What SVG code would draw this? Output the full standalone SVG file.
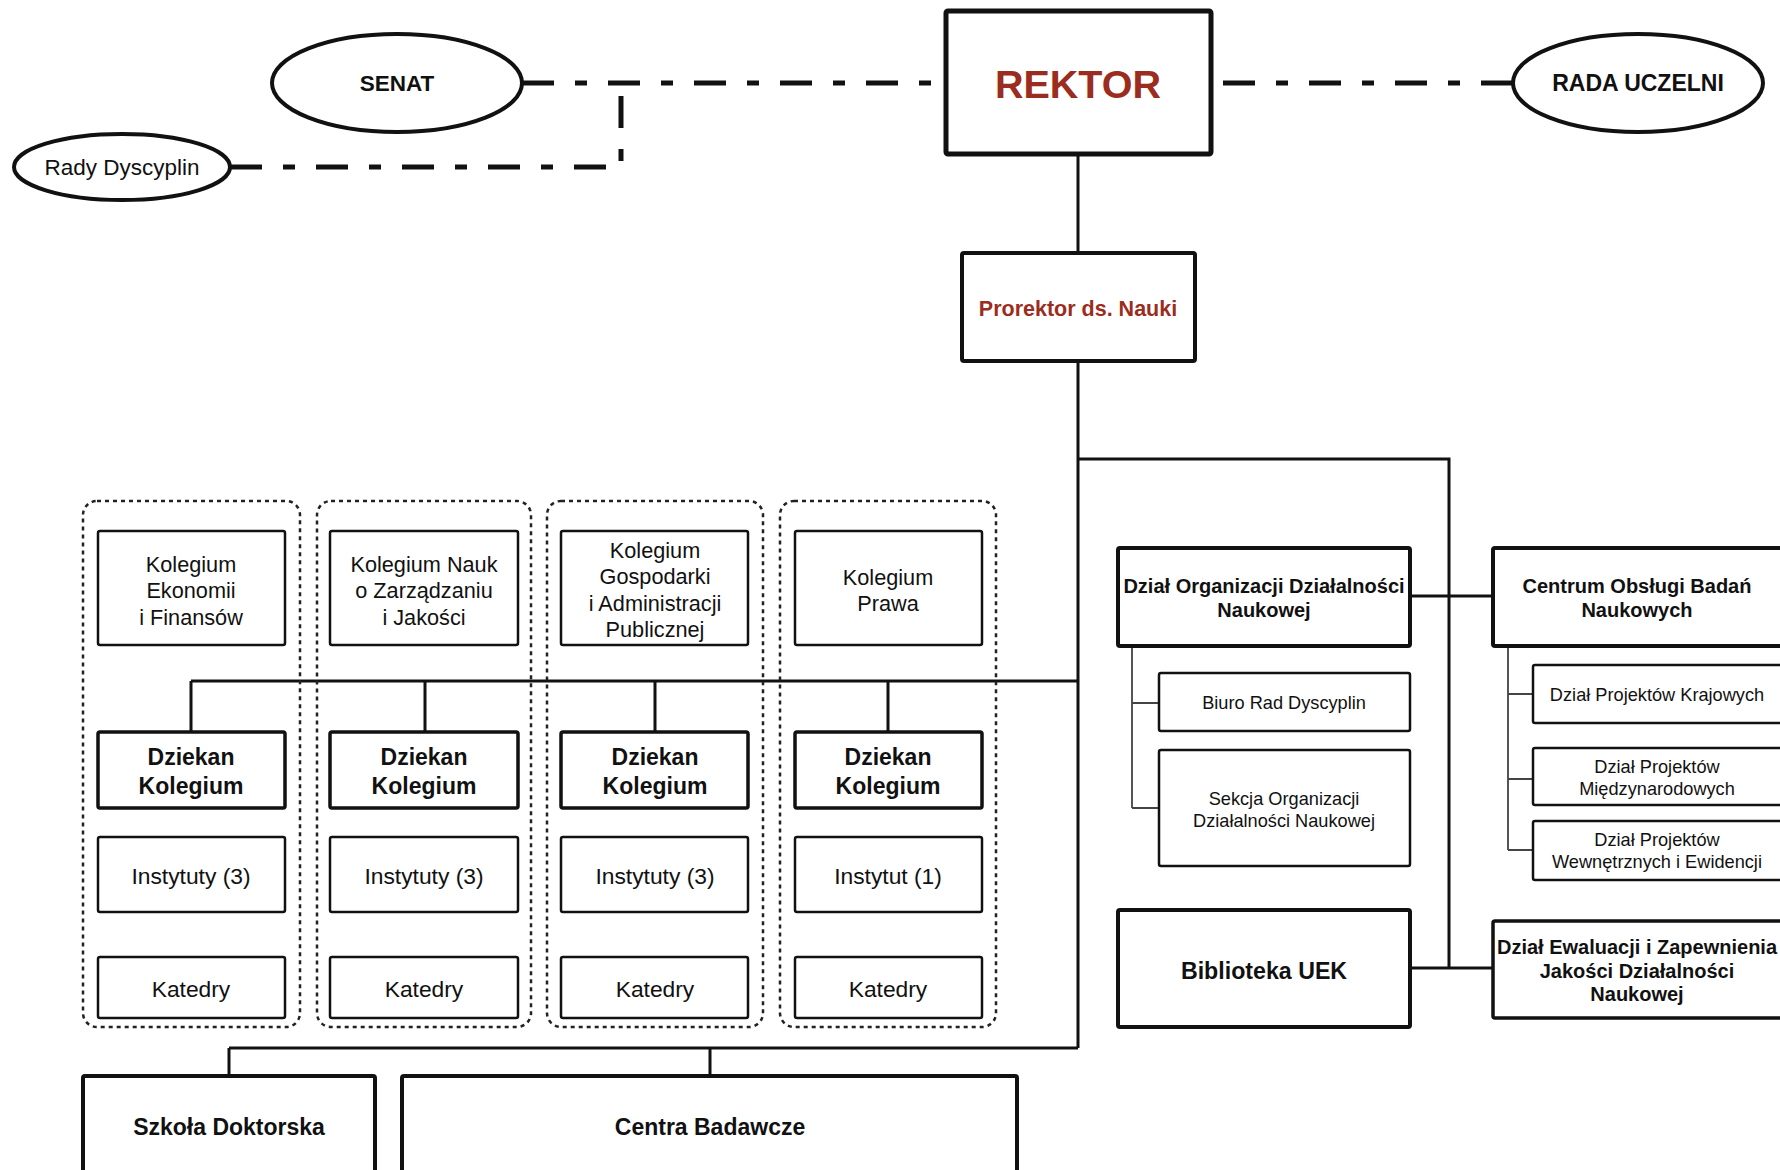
<svg xmlns="http://www.w3.org/2000/svg" width="1780" height="1170" viewBox="0 0 1780 1170">
<style>
text{font-family:"Liberation Sans",Arial,sans-serif;fill:#111;text-anchor:middle}
.b{font-weight:bold}
.red{fill:#9b2c20}
.box{fill:#fff;stroke:#111}
.w5{stroke-width:5}
.w4{stroke-width:4}
.w3{stroke-width:3.5}
.w2{stroke-width:2.5}
.grp{fill:none;stroke:#222;stroke-width:2.5;stroke-dasharray:4 4}
.dd{fill:none;stroke:#111;stroke-width:5;stroke-dasharray:32 21 12 21}
.ln{fill:none;stroke:#111;stroke-width:3}
.thin{fill:none;stroke:#444;stroke-width:1.8}
</style>
<rect width="1780" height="1170" fill="#fff"/>
<g id="connectors">
<path class="dd" d="M522 83 H946"/>
<path class="dd" d="M230 167 H621 V83"/>
<path class="dd" d="M1513 83 H1211"/>
<path class="ln" d="M1078 154 V253"/>
<path class="ln" d="M1078 361 V1048"/>
<path class="ln" d="M1078 459 H1449 V968"/>
<path class="ln" d="M1410 596 H1493"/>
<path class="ln" d="M1410 968 H1493"/>
<path class="ln" d="M191 681 H1078"/>
<path class="ln" d="M191 681 V732 M425 681 V732 M655 681 V732 M888 681 V732"/>
<path class="ln" d="M229 1048 H1078 M229 1048 V1076 M710 1048 V1076"/>
<path class="thin" d="M1132 646 V808 M1132 703 H1159 M1132 808 H1159"/>
<path class="thin" d="M1508 646 V850 M1508 694 H1533 M1508 779 H1533 M1508 850 H1533"/>
</g>
<g id="senat"><ellipse cx="397" cy="83" rx="125" ry="49" class="box w4"/><text x="397" y="91" class="b" font-size="22.5">SENAT</text></g>
<g id="rady-dyscyplin"><ellipse cx="122" cy="167" rx="108" ry="33" class="box w4"/><text x="122" y="175" font-size="22.5">Rady Dyscyplin</text></g>
<g id="rektor"><rect x="946" y="11" width="265" height="143" rx="2" class="box w5"/><text x="1078" y="98" class="b red" font-size="39.5">REKTOR</text></g>
<g id="rada-uczelni"><ellipse cx="1638" cy="83" rx="125" ry="49" class="box w4"/><text x="1638" y="91" class="b" font-size="23">RADA UCZELNI</text></g>
<g id="prorektor"><rect x="962" y="253" width="233" height="108" rx="2" class="box w4"/><text x="1078" y="316" class="b red" font-size="21.5">Prorektor ds. Nauki</text></g>
<g id="dzial-organizacji"><rect x="1118" y="548" width="292" height="98" rx="2" class="box w4"/><text x="1264" y="593" class="b" font-size="20">Dział Organizacji Działalności</text><text x="1264" y="617" class="b" font-size="20">Naukowej</text></g>
<g id="centrum-obslugi"><rect x="1493" y="548" width="291" height="98" rx="2" class="box w4"/><text x="1637" y="593" class="b" font-size="20">Centrum Obsługi Badań</text><text x="1637" y="617" class="b" font-size="20">Naukowych</text></g>
<g id="biuro-rad"><rect x="1159" y="673" width="251" height="58" rx="2" class="box w2"/><text x="1284" y="709" font-size="18.2">Biuro Rad Dyscyplin</text></g>
<g id="sekcja"><rect x="1159" y="750" width="251" height="116" rx="2" class="box w2"/><text x="1284" y="805" font-size="18.2">Sekcja Organizacji</text><text x="1284" y="827" font-size="18.2">Działalności Naukowej</text></g>
<g id="projekty-krajowe"><rect x="1533" y="665" width="251" height="58" rx="2" class="box w2"/><text x="1657" y="701" font-size="18.2">Dział Projektów Krajowych</text></g>
<g id="projekty-miedzynarodowe"><rect x="1533" y="748" width="251" height="57" rx="2" class="box w2"/><text x="1657" y="773" font-size="18.2">Dział Projektów</text><text x="1657" y="795" font-size="18.2">Międzynarodowych</text></g>
<g id="projekty-wewnetrzne"><rect x="1533" y="821" width="251" height="59" rx="2" class="box w2"/><text x="1657" y="846" font-size="18.2">Dział Projektów</text><text x="1657" y="868" font-size="18.2">Wewnętrznych i Ewidencji</text></g>
<g id="biblioteka"><rect x="1118" y="910" width="292" height="117" rx="2" class="box w4"/><text x="1264" y="979" class="b" font-size="23.2">Biblioteka UEK</text></g>
<g id="dzial-ewaluacji"><rect x="1493" y="921" width="291" height="97" rx="2" class="box w3"/><text x="1637" y="954" class="b" font-size="20">Dział Ewaluacji i Zapewnienia</text><text x="1637" y="978" class="b" font-size="20">Jakości Działalności</text><text x="1637" y="1001" class="b" font-size="20">Naukowej</text></g>
<g id="grupa-1"><rect x="83" y="501" width="217" height="526" rx="14" class="grp"/></g>
<g id="grupa-2"><rect x="317" y="501" width="214" height="526" rx="14" class="grp"/></g>
<g id="grupa-3"><rect x="547" y="501" width="216" height="526" rx="14" class="grp"/></g>
<g id="grupa-4"><rect x="780" y="501" width="216" height="526" rx="14" class="grp"/></g>
<g id="kolegium-ekonomii"><rect x="98" y="531" width="187" height="114" rx="2" class="box w2"/><text x="191" y="572" font-size="21.7">Kolegium</text><text x="191" y="598" font-size="21.7">Ekonomii</text><text x="191" y="625" font-size="21.7">i Finansów</text></g>
<g id="kolegium-zarzadzania"><rect x="330" y="531" width="188" height="114" rx="2" class="box w2"/><text x="424" y="572" font-size="21.7">Kolegium Nauk</text><text x="424" y="598" font-size="21.7">o Zarządzaniu</text><text x="424" y="625" font-size="21.7">i Jakości</text></g>
<g id="kolegium-gospodarki"><rect x="561" y="531" width="187" height="114" rx="2" class="box w2"/><text x="655" y="558" font-size="21.7">Kolegium</text><text x="655" y="584" font-size="21.7">Gospodarki</text><text x="655" y="611" font-size="21.7">i Administracji</text><text x="655" y="637" font-size="21.7">Publicznej</text></g>
<g id="kolegium-prawa"><rect x="795" y="531" width="187" height="114" rx="2" class="box w2"/><text x="888" y="585" font-size="21.7">Kolegium</text><text x="888" y="611" font-size="21.7">Prawa</text></g>
<g id="dziekan-1"><rect x="98" y="732" width="187" height="76" rx="2" class="box w3"/><text x="191" y="765" class="b" font-size="23">Dziekan</text><text x="191" y="794" class="b" font-size="23">Kolegium</text></g>
<g id="dziekan-2"><rect x="330" y="732" width="188" height="76" rx="2" class="box w3"/><text x="424" y="765" class="b" font-size="23">Dziekan</text><text x="424" y="794" class="b" font-size="23">Kolegium</text></g>
<g id="dziekan-3"><rect x="561" y="732" width="187" height="76" rx="2" class="box w3"/><text x="655" y="765" class="b" font-size="23">Dziekan</text><text x="655" y="794" class="b" font-size="23">Kolegium</text></g>
<g id="dziekan-4"><rect x="795" y="732" width="187" height="76" rx="2" class="box w3"/><text x="888" y="765" class="b" font-size="23">Dziekan</text><text x="888" y="794" class="b" font-size="23">Kolegium</text></g>
<g id="instytuty-1"><rect x="98" y="837" width="187" height="75" rx="2" class="box w2"/><text x="191" y="884" font-size="22.8">Instytuty (3)</text></g>
<g id="instytuty-2"><rect x="330" y="837" width="188" height="75" rx="2" class="box w2"/><text x="424" y="884" font-size="22.8">Instytuty (3)</text></g>
<g id="instytuty-3"><rect x="561" y="837" width="187" height="75" rx="2" class="box w2"/><text x="655" y="884" font-size="22.8">Instytuty (3)</text></g>
<g id="instytut-4"><rect x="795" y="837" width="187" height="75" rx="2" class="box w2"/><text x="888" y="884" font-size="22.8">Instytut (1)</text></g>
<g id="katedry-1"><rect x="98" y="957" width="187" height="61" rx="2" class="box w2"/><text x="191" y="997" font-size="22.8">Katedry</text></g>
<g id="katedry-2"><rect x="330" y="957" width="188" height="61" rx="2" class="box w2"/><text x="424" y="997" font-size="22.8">Katedry</text></g>
<g id="katedry-3"><rect x="561" y="957" width="187" height="61" rx="2" class="box w2"/><text x="655" y="997" font-size="22.8">Katedry</text></g>
<g id="katedry-4"><rect x="795" y="957" width="187" height="61" rx="2" class="box w2"/><text x="888" y="997" font-size="22.8">Katedry</text></g>
<g id="szkola-doktorska"><rect x="83" y="1076" width="292" height="110" rx="2" class="box w4"/><text x="229" y="1135" class="b" font-size="23">Szkoła Doktorska</text></g>
<g id="centra-badawcze"><rect x="402" y="1076" width="615" height="110" rx="2" class="box w4"/><text x="710" y="1135" class="b" font-size="23">Centra Badawcze</text></g>
</svg>
